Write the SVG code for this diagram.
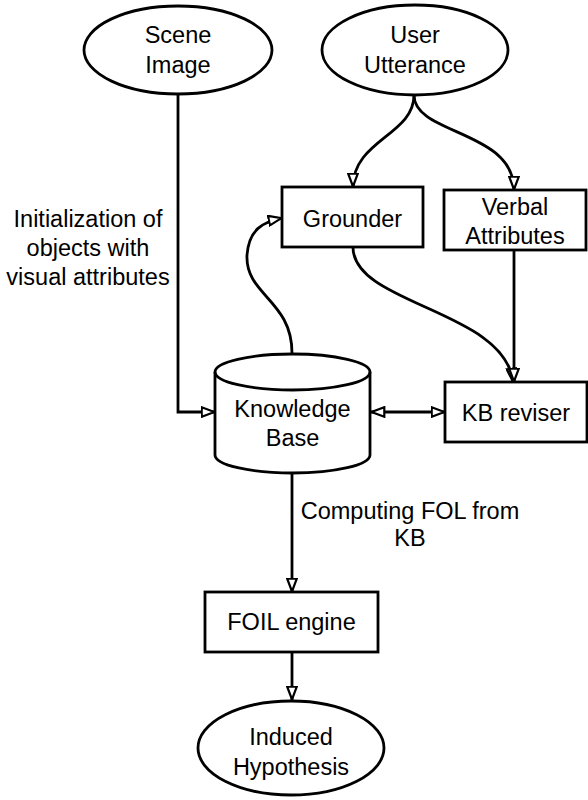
<svg xmlns="http://www.w3.org/2000/svg" width="588" height="800" viewBox="0 0 588 800">
<defs>
<style>
.s{fill:#fff;stroke:#000;stroke-width:2.8}
.t{font-family:"Liberation Sans",Arial,sans-serif;font-size:23.5px;fill:#000;text-anchor:middle}
.c{fill:none;stroke:#000;stroke-width:2.8}
</style>
<marker id="a" viewBox="0 0 15 12" refX="14.5" refY="6" markerWidth="15" markerHeight="12" markerUnits="userSpaceOnUse" orient="auto-start-reverse">
<path d="M1.2,1.2 L14,6 L1.2,10.8 z" fill="#fff" stroke="#000" stroke-width="2.2"/>
</marker>
</defs>
<rect width="588" height="800" fill="#fff"/>
<g id="connectors">
<path class="c" d="M178,94 L178,412 L215,412" marker-end="url(#a)"/>
<path class="c" d="M414,95 C414,135 353,140 353,187" marker-end="url(#a)"/>
<path class="c" d="M414,95 C414,135 514,130 514,190" marker-end="url(#a)"/>
<path class="c" d="M292,353 C292,300 245,295 247,255 C249,230 262,222 282,218" marker-end="url(#a)"/>
<path class="c" d="M353,247 C353,305 505,310 513,382" marker-end="url(#a)"/>
<path class="c" d="M514,250 L514,382" marker-end="url(#a)"/>
<path class="c" d="M371,412 L445,412" marker-start="url(#a)" marker-end="url(#a)"/>
<path class="c" d="M292,473 L292,592" marker-end="url(#a)"/>
<path class="c" d="M292,652 L292,700" marker-end="url(#a)"/>
</g>
<g id="scene-image">
<ellipse class="s" cx="178" cy="50" rx="94" ry="44"/>
<text class="t" x="178" y="43">Scene</text>
<text class="t" x="178" y="73">Image</text>
</g>
<g id="user-utterance">
<ellipse class="s" cx="415" cy="50" rx="93" ry="45"/>
<text class="t" x="415" y="43">User</text>
<text class="t" x="415" y="73">Utterance</text>
</g>
<g id="grounder">
<rect class="s" x="282" y="187" width="141" height="60"/>
<text class="t" x="352.5" y="227">Grounder</text>
</g>
<g id="verbal-attributes">
<rect class="s" x="444" y="190" width="142" height="60"/>
<text class="t" x="515" y="215">Verbal</text>
<text class="t" x="515" y="244">Attributes</text>
</g>
<g id="knowledge-base">
<path class="s" d="M215,372 A77.5,18 0 0 1 370,372 L370,455 A77.5,18 0 0 1 215,455 Z"/>
<path class="c" d="M215,372 A77.5,18 0 0 0 370,372"/>
<text class="t" x="292.5" y="417">Knowledge</text>
<text class="t" x="292.5" y="446">Base</text>
</g>
<g id="kb-reviser">
<rect class="s" x="445" y="382" width="142" height="60"/>
<text class="t" x="516" y="421">KB reviser</text>
</g>
<g id="foil-engine">
<rect class="s" x="205" y="592" width="173" height="60"/>
<text class="t" x="291.5" y="630">FOIL engine</text>
</g>
<g id="induced-hypothesis">
<ellipse class="s" cx="291" cy="748" rx="93" ry="47"/>
<text class="t" x="291" y="745">Induced</text>
<text class="t" x="291" y="775">Hypothesis</text>
</g>
<g id="labels">
<text class="t" x="88" y="227">Initialization of</text>
<text class="t" x="88" y="256">objects with</text>
<text class="t" x="88" y="285">visual attributes</text>
<text class="t" x="410" y="519">Computing FOL from</text>
<text class="t" x="410" y="546">KB</text>
</g>
</svg>
